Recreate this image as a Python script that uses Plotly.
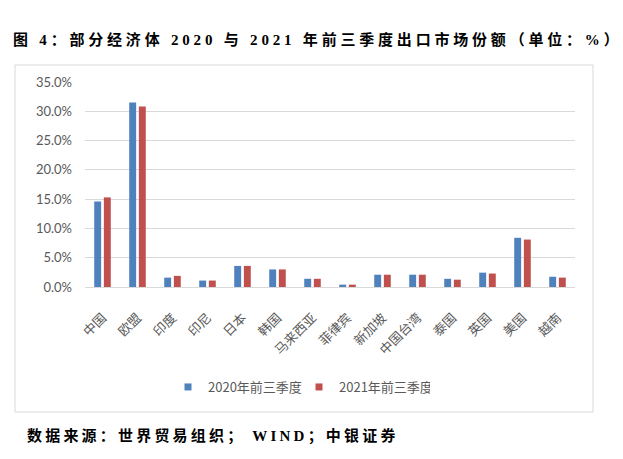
import plotly.graph_objects as go

categories = ["中国", "欧盟", "印度", "印尼", "日本", "韩国", "马来西亚", "菲律宾",
              "新加坡", "中国台湾", "泰国", "英国", "美国", "越南"]
share_2020 = [14.6, 31.5, 1.6, 1.1, 3.6, 3.0, 1.4, 0.4, 2.1, 2.1, 1.4, 2.45, 8.4, 1.75]
share_2021 = [15.3, 30.8, 1.9, 1.1, 3.6, 3.0, 1.4, 0.4, 2.1, 2.1, 1.25, 2.3, 8.1, 1.6]
series_names = ["2020年前三季度", "2021年前三季度"]
series_colors = ["#4f81bd", "#c0504d"]
y_ticks = [0, 5, 10, 15, 20, 25, 30, 35]
y_tick_labels = [f"{v:.1f}%" for v in y_ticks]
title_text = "图 4：部分经济体 2020 与 2021 年前三季度出口市场份额（单位：%）"
source_text = "数据来源：世界贸易组织； WIND；中银证券"

W, H = 623, 459
L, R, T, B = 85, 575, 82, 287

def px(x):
    return (x - L) / (R - L)

def py(y):
    return (B - y) / (B - T)

fig = go.Figure()
for vals, name, col in zip([share_2020, share_2021], series_names, series_colors):
    fig.add_trace(go.Bar(x=categories, y=vals, name=name, showlegend=False,
                         marker=dict(color=col, line=dict(width=0))))
for name, col in zip(series_names, series_colors):
    fig.add_trace(go.Scatter(x=[None], y=[None], mode="markers", name=name,
                             marker=dict(symbol="square", size=7, color=col)))

serif_cjk = "Liberation Serif, Noto Sans CJK SC"

fig.update_layout(
    width=W, height=H,
    margin=dict(l=L, r=W - R, t=T, b=H - B, pad=0),
    paper_bgcolor="white", plot_bgcolor="white",
    barmode="group", bargap=0.45, bargroupgap=0.28,
    showlegend=True,
    legend=dict(orientation="h", x=px(168), xanchor="left", y=py(387), yanchor="middle",
                font=dict(family="Noto Sans CJK SC", size=13, color="#595959"),
                itemwidth=30, traceorder="normal", entrywidth=86),
    font=dict(family="Noto Sans CJK SC"),
    xaxis=dict(tickangle=-45, tickfont=dict(family="Noto Sans CJK SC", size=13, color="#595959"),
               showline=True, linecolor="#d9d9d9", linewidth=1, ticks="", showgrid=False,
               ticklabelstandoff=17),
    yaxis=dict(range=[0, 35], tickvals=y_ticks, ticktext=y_tick_labels,
               tickfont=dict(family="Lato", size=13, color="#595959"),
               showgrid=True, gridcolor="#d9d9d9", gridwidth=1, zeroline=False,
               showline=False, ticks="", ticklabelstandoff=12),
    shapes=[dict(type="rect", xref="paper", yref="paper",
                 x0=px(15), x1=px(593), y0=py(412), y1=py(65),
                 line=dict(color="#d9d9d9", width=1), fillcolor="rgba(0,0,0,0)", layer="below")],
    annotations=[
        dict(text=f"<b><span style='letter-spacing:3.8px'>{title_text}</span></b>",
             xref="paper", yref="paper", x=px(11), y=py(39), xanchor="left", yanchor="middle",
             showarrow=False, font=dict(family=serif_cjk, size=15, color="black")),
        dict(text=f"<b><span style='letter-spacing:3.2px'>{source_text}</span></b>",
             xref="paper", yref="paper", x=px(25), y=py(436), xanchor="left", yanchor="middle",
             showarrow=False, font=dict(family=serif_cjk, size=15, color="black")),
    ],
)

fig.write_html("out.html", config={"displayModeBar": False},
               post_script="document.body.style.margin='0';")
